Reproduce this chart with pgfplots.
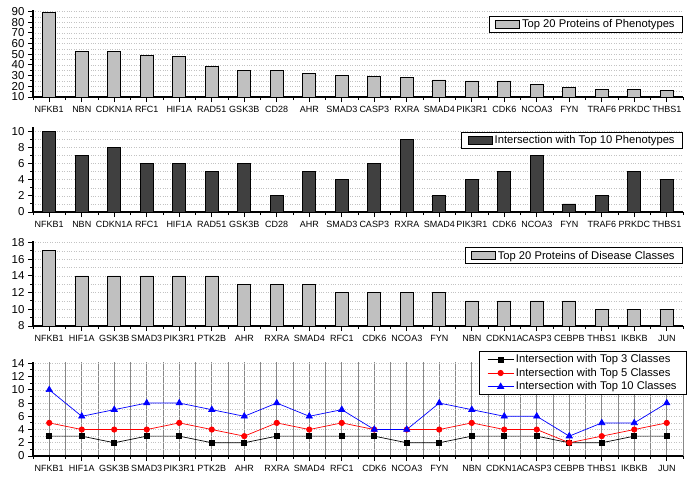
\documentclass[border=0pt]{standalone}
\usepackage{fontspec}
\setmainfont{Liberation Sans}
\usepackage{pgfplots}
\pgfplotsset{compat=1.18}

\definecolor{lightbar}{RGB}{192,192,192}
\definecolor{darkbar}{RGB}{64,64,64}
\definecolor{gridgray}{RGB}{195,195,195}
\definecolor{vgrid}{RGB}{135,135,135}

\pgfplotsset{
  panel/.style={
    scale only axis, width=650pt,
    axis x line*=bottom, axis y line*=left,
    axis line style={black, line width=1.1pt, -},
    tick align=outside,
    major tick length=5pt, minor tick length=3pt,
    tick style={black, line width=1pt},
    xmin=-0.5, xmax=19.5,
    xtick={0,...,19},
    minor xtick={-0.5,0.5,...,19.5},
    minor y tick num=1,
    x tick label style={font=\fontsize{9}{9}\selectfont, yshift=-1pt},
    y tick label style={font=\fontsize{11.5}{11.5}\selectfont},
    /pgf/number format/assume math mode=true,
    legend cell align=left,
    legend style={draw=black, line width=0.8pt,
      font=\fontsize{11.2}{11.2}\selectfont, inner xsep=6pt, inner ysep=1.2pt,
      at={(1,1)}, anchor=north east},
  },
  ygrid/.style={
    ymajorgrids=true, yminorgrids=true,
    major y grid style={dotted, gridgray, line width=0.6pt},
    minor y grid style={dotted, gridgray, line width=0.6pt},
  },
  barlegend/.style={legend image code/.code={\draw[##1, line width=0.8pt] (0pt,-3.5pt) rectangle (24pt,4pt);}},
}

\begin{document}
\begin{tikzpicture}
\path[use as bounding box] (0,0) rectangle (692pt,-484pt);

% panel 1: top 20 proteins of phenotypes
\begin{axis}[panel, ygrid, at={(33pt,-97pt)}, anchor=south west, height=87pt,
  ymin=10, ymax=91.5, ytick={10,20,...,90},
  xticklabels={NFKB1,NBN,CDKN1A,RFC1,HIF1A,RAD51,GSK3B,CD28,AHR,SMAD3,CASP3,RXRA,SMAD4,PIK3R1,CDK6,NCOA3,FYN,TRAF6,PRKDC,THBS1},
  legend style={yshift=-6pt}]
\addplot[ybar, bar width=13pt, fill=lightbar, draw=black, line width=0.8pt, barlegend] coordinates {
 (0,89) (1,53) (2,53) (3,49) (4,48) (5,39) (6,35) (7,35) (8,32) (9,30)
 (10,29) (11,28) (12,26) (13,25) (14,25) (15,22) (16,19) (17,17) (18,17) (19,16)};
\addlegendentry{Top 20 Proteins of Phenotypes}
\end{axis}

% panel 2: intersection with top 10 phenotypes
\begin{axis}[panel, ygrid, at={(33pt,-212pt)}, anchor=south west, height=85pt,
  ymin=0, ymax=10.55, ytick={0,2,...,10},
  xticklabels={NFKB1,NBN,CDKN1A,RFC1,HIF1A,RAD51,GSK3B,CD28,AHR,SMAD3,CASP3,RXRA,SMAD4,PIK3R1,CDK6,NCOA3,FYN,TRAF6,PRKDC,THBS1},
  legend style={yshift=-5pt}]
\addplot[ybar, bar width=13pt, fill=darkbar, draw=black, line width=0.8pt, barlegend] coordinates {
 (0,10) (1,7) (2,8) (3,6) (4,6) (5,5) (6,6) (7,2) (8,5) (9,4)
 (10,6) (11,9) (12,2) (13,4) (14,5) (15,7) (16,1) (17,2) (18,5) (19,4)};
\addlegendentry{Intersection with Top 10 Phenotypes}
\end{axis}

% panel 3: top 20 proteins of disease classes
\begin{axis}[panel, ygrid, at={(33pt,-326pt)}, anchor=south west, height=84.7pt,
  ymin=8, ymax=18.15, ytick={8,10,...,18},
  xticklabels={NFKB1,HIF1A,GSK3B,SMAD3,PIK3R1,PTK2B,AHR,RXRA,SMAD4,RFC1,CDK6,NCOA3,FYN,NBN,CDKN1A,CASP3,CEBPB,THBS1,IKBKB,JUN},
  legend style={yshift=-6pt}]
\addplot[ybar, bar width=13pt, fill=lightbar, draw=black, line width=0.8pt, barlegend] coordinates {
 (0,17) (1,14) (2,14) (3,14) (4,14) (5,14) (6,13) (7,13) (8,13) (9,12)
 (10,12) (11,12) (12,12) (13,11) (14,11) (15,11) (16,11) (17,10) (18,10) (19,10)};
\addlegendentry{Top 20 Proteins of Disease Classes}
\end{axis}

% panel 4: intersections with top classes
\begin{axis}[panel, ygrid, at={(33pt,-456pt)}, anchor=south west, height=94pt,
  ymin=0, ymax=14.2, ytick={0,2,...,14},
  xticklabels={NFKB1,HIF1A,GSK3B,SMAD3,PIK3R1,PTK2B,AHR,RXRA,SMAD4,RFC1,CDK6,NCOA3,FYN,NBN,CDKN1A,CASP3,CEBPB,THBS1,IKBKB,JUN},
  xmajorgrids=true, xminorgrids=true,
  major x grid style={solid, vgrid, line width=1pt},
  minor x grid style={solid, vgrid, line width=1pt},
  legend style={xshift=4pt, yshift=11pt, fill=white, inner xsep=8pt},
  legend image code/.code={\draw[mark repeat=2,mark phase=2,#1] plot coordinates {(0pt,0pt) (13pt,0pt) (26pt,0pt)};}]
\addplot[black, line width=0.7pt, mark=square*, mark size=2.5pt] coordinates {
 (0,3) (1,3) (2,2) (3,3) (4,3) (5,2) (6,2) (7,3) (8,3) (9,3)
 (10,3) (11,2) (12,2) (13,3) (14,3) (15,3) (16,2) (17,2) (18,3) (19,3)};
\addlegendentry{Intersection with Top 3 Classes}
\addplot[red, line width=0.7pt, mark=*, mark size=2.7pt] coordinates {
 (0,5) (1,4) (2,4) (3,4) (4,5) (5,4) (6,3) (7,5) (8,4) (9,5)
 (10,4) (11,4) (12,4) (13,5) (14,4) (15,4) (16,2) (17,3) (18,4) (19,5)};
\addlegendentry{Intersection with Top 5 Classes}
\addplot[blue, line width=0.7pt, mark=triangle*, mark size=3.6pt] coordinates {
 (0,10) (1,6) (2,7) (3,8) (4,8) (5,7) (6,6) (7,8) (8,6) (9,7)
 (10,4) (11,4) (12,8) (13,7) (14,6) (15,6) (16,3) (17,5) (18,5) (19,8)};
\addlegendentry{Intersection with Top 10 Classes}
\end{axis}
\end{tikzpicture}
\end{document}
